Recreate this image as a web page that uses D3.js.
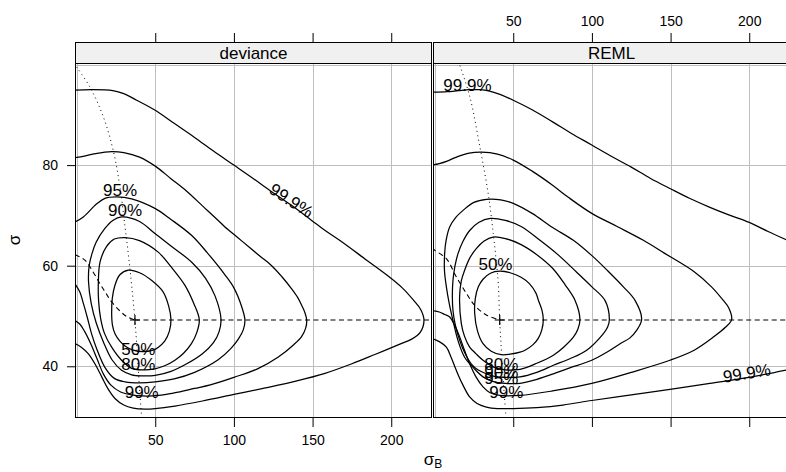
<!DOCTYPE html>
<html><head><meta charset="utf-8">
<script src="https://cdn.jsdelivr.net/npm/d3@7"></script>
<style>
body{margin:0;background:#fff}
svg{display:block}
text{font-family:"Liberation Sans",Arial,Helvetica,sans-serif;fill:#000}
</style>
</head><body>
<svg id="chart" width="786" height="472"></svg>
<script>
// ---------------- data ----------------
const panels = ["deviance", "REML"];
const xTicks = [50, 100, 150, 200];
const yTicks = [40, 60, 80];
const xDomain = [-1, 225.9];
const yDomain = [29.72, 100.3];

// deviance panel contours  [sigma_B, sigma]
const dev50 = [[33,59.1],[40,58.6],[48,57],[55,54.8],[58.5,52],[60,49.3],[59,47],[56,45],[52,43.8],[48.5,43.2],[42,42.9],[36,43.2],[31,44],[27.5,45],[24.5,46.4],[22.8,48.2],[22.3,50.5],[22.7,53.5],[24.4,56.1],[27.5,58.2]];
const dev80 = [[30.8,65.6],[40,65],[51.9,62.7],[60,59.8],[68.9,56.1],[74.5,52.5],[78,49.3],[76.5,46.8],[73,44.5],[68,42.6],[62.5,41.2],[56,40.1],[49.8,39.5],[42,39.3],[35,39.6],[28.6,41.2],[22.3,43.8],[17.8,46.5],[15.3,49.5],[14,53],[13.8,56.1],[14.9,60.7],[19,63.8],[24,65.3]];
const dev90 = [[28.6,69.7],[40,68.8],[49.8,66.4],[60,63.9],[73.2,60.7],[82,57.5],[88,54],[91.8,49.3],[90.5,46.8],[87,44.7],[80,42.5],[70,40.5],[60,39],[50,38.2],[42,38.1],[35,38.3],[28.6,39.2],[22.5,41.3],[17.5,44.5],[12.5,48.6],[9.3,52.5],[7.6,56.8],[8,60],[9.8,62.4],[12.5,64.7],[18,67.4],[23,69]];
const dev95 = [[-1,68.7],[4.3,69.7],[12.8,72.3],[18,73.4],[25.5,73.7],[35,73.3],[49.8,71.4],[60,69.2],[73.2,66.0],[83,62.6],[94.3,58.2],[100,55.6],[105,51.8],[107,49.2],[106,47.3],[103,45.5],[98,43.5],[90,41.3],[75,38.8],[62,37.5],[50,36.9],[40,36.7],[30.8,36.9],[24,37.6],[18,39.8],[13,43.3],[9.5,46.5],[7,49.5],[4.5,52.3],[2,54.8],[-1,56.4]];
const dev99 = [[-1,81.5],[5,81.8],[12,82.3],[22.3,82.7],[30,82.5],[40,81.6],[50,79.8],[60,77.3],[70,74.8],[80,71.9],[90,69.0],[94.3,67.7],[102,65.7],[110,63.6],[117,61.8],[124,60.0],[130.5,57.8],[136.7,55.4],[140.5,53.7],[143.1,52.1],[145.2,50.6],[146.3,49.1],[145.6,47.6],[143,45.9],[138,44.3],[128,41.8],[115,39.5],[100,37.8],[85,36.3],[75,35.6],[62,34.7],[52,34.2],[42,34.1],[35,34.3],[28,34.9],[22,36.2],[17,38.5],[13,41.5],[9,44.5],[5,47],[2,48.4],[-1,49.1]];
const dev999 = [[-1,94.9],[10,95],[23,94.8],[30,94.2],[38.2,92.9],[50,90.9],[62,88.3],[75,85.5],[87,82.8],[100,80.0],[112,77.4],[124,74.7],[137,71.9],[149.4,69.0],[158,67.0],[167.4,65.0],[184.4,61.1],[197,58.2],[207,55.6],[214,53.2],[218.7,51.3],[220.8,49.2],[218.5,46.8],[213,45.4],[205.5,44.4],[190,42.4],[175,40.5],[157.9,38.6],[140,37.1],[120,35.7],[100,34.4],[80,33.1],[62.5,32.1],[50,31.6],[43.5,31.5],[36,31.7],[30,32.3],[24.4,33.6],[20,35.5],[16,37.9],[12,40.3],[7.4,42.5],[3,43.8],[-1,44.5]];

// REML panel contours
const rem50 = [[41.4,58.9],[48,58.6],[55,57.7],[60.4,56.4],[64.5,54.5],[66,53.1],[68.2,51.2],[69.1,49.3],[68.2,47.3],[66,45.6],[62.6,44.3],[58,43.3],[54.3,42.8],[48,42.4],[42.4,42.3],[36,43],[30.8,44.5],[27.3,47],[25.5,50.5],[25.9,53.5],[27.8,55.8],[30.8,57.3],[35.5,58.5]];
const rem80 = [[37.1,65.7],[45,65.4],[55,64.2],[65,62.2],[75,59.5],[83,56.2],[89.3,53.1],[92.4,49.3],[91,47.3],[88.2,45.8],[82,43.8],[75.5,42.2],[65,40.6],[54.3,39.4],[45,39.3],[38,39.8],[30.8,41.2],[26,42.6],[22.3,43.8],[19,46],[17,48.5],[15.9,53.8],[17,57],[19.1,59.1],[22.5,61.6],[26.5,63.4],[31.5,64.9]];
const rem90 = [[35.5,69.4],[45,69],[55,67.8],[67,65.05],[78,62.3],[90,58.8],[100,55.8],[108.3,53.1],[111.1,49.3],[110,47.8],[107.3,46.5],[96.7,43.2],[86,41.5],[75.5,40.2],[65,38.8],[54.3,37.9],[45,37.8],[38,38],[32.9,38.5],[27.5,39.3],[23.3,40.5],[19,42.8],[15.9,45.2],[13,48.5],[11.7,51.1],[11.3,54],[11.7,57.1],[13,60],[14.9,62.4],[18,64.8],[22.3,67],[28,68.6]];
const rem95 = [[33,73.2],[42,73.1],[50,72.4],[62,70.4],[75,67.6],[88.2,65.05],[100,62],[110,59],[120,55.8],[127.4,53.1],[131.6,49.3],[128.5,47.2],[124,45.6],[117.9,44.5],[110,42.9],[99.9,41.2],[85,39.6],[75.5,38.5],[65,37.4],[54.3,36.6],[45,36.6],[37,37],[30.8,37.9],[25,39.6],[19.1,41.8],[15,45],[11.7,49.1],[9.3,52.5],[7.5,55.8],[6.3,59],[6.4,62.4],[7.3,65],[9.6,67.7],[13.5,69.6],[18.1,71],[25,72.6]];
const rem99 = [[-1.5,51.1],[3,50.8],[6.5,50.3],[9.6,49.8],[13,48],[16,45.8],[19,43.2],[22.3,40.5],[26.5,37.8],[30.8,35.9],[35,34.8],[41.4,34.2],[54.3,34.2],[75,35.1],[99.9,36.6],[125,38.8],[149.6,41.2],[165,43.2],[177.2,45.8],[185,47.8],[188.8,49.3],[187,51.6],[183.5,53.1],[176,55.8],[165,58.8],[146,62.5],[132.7,65.05],[116,67.8],[99.9,70.4],[85,73.6],[75,76],[62,78.8],[50,81],[40,82.2],[29.9,82.6],[22,82.4],[14,81.6],[8,80.8],[3,80.3],[-1.5,80]];
const rem999Upper = [[-1.5,94.5],[8,94.6],[15,94.8],[22,95],[28.8,95],[35,94.7],[42,94],[50,92.9],[62,91],[75,88.6],[87,86.3],[99.9,84],[112,81.8],[125,79.6],[137,77.4],[149.9,75.3],[162,73.4],[175,71.6],[187,70.1],[200,68.6],[212,66.8],[226,64.8]];
const rem999Lower = [[-1.5,45.5],[3,44.9],[7.5,43.8],[10.5,41.8],[13.8,39.2],[17.5,36.6],[22.3,33.9],[27,32.6],[32.9,31.9],[40,31.6],[49.9,31.6],[65,31.8],[81.6,32.3],[99.9,33.2],[125,34.3],[149.6,35.4],[175,36.6],[199.9,37.8],[226,39.4]];

// profile traces and optimum
const devDashed = [[-1,62.2],[5.3,61.1],[10,59],[14.9,56.4],[18.5,54.6],[22.3,52.8],[27.6,51.0],[31.8,49.9],[37.1,49.2]];
const devDotted = [[0,99.5],[8.5,95.5],[17,89.6],[23.3,82.9],[27.6,75.6],[30.8,67.7],[33,62],[35,56.1],[37.1,49.2],[38.5,43],[39.7,37],[41.4,29.7]];
const remDashed = [[-1.5,63.6],[0,63.1],[7.5,61.4],[13.8,57.8],[20.2,54.5],[25.5,52.1],[32.9,50.2],[41.4,49.2]];
const remDotted = [[16.1,99.8],[22.5,93.5],[28.8,83.6],[34.1,74.3],[37.3,66.4],[39.5,60],[40.5,56.4],[41.4,49.2],[42.5,43],[43.8,36.5],[45.4,29.9]];
const optimum = [[37.1,49.2],[41.4,49.2]];

// contour labels [text, sigma_B, sigma, angle]
const devLabels = [["95%",27.6,75.0,0],["90%",30.8,71.0,0],["50%",39.2,43.4,0],["80%",39.2,40.4,0],["99%",41.4,35.0,0],["99.9%",136.6,73.0,33]];
const remLabels = [["99.9%",20.9,96.0,0],["50%",38.7,60.4,0],["80%",42.4,40.4,0],["90%",42.4,38.9,0],["95%",42.4,37.6,0],["99%",45.6,34.9,0],["99.9%",198.4,38.7,-9]];

// ---------------- drawing ----------------
const svg = d3.select("#chart");
const panelLeft = [75, 433], panelW = 357, panelTop = 63, panelH = 355, stripTop = 42, stripH = 21;
const x = d3.scaleLinear().domain(xDomain).range([0, panelW]);
const y = d3.scaleLinear().domain(yDomain).range([panelH, 0]);

const panelData = [
  {contours:[{p:dev50,c:true},{p:dev80,c:true},{p:dev90,c:true},{p:dev95,c:false},{p:dev99,c:false},{p:dev999,c:false}],
   dashed:devDashed, dotted:devDotted, opt:optimum[0], labels:devLabels},
  {contours:[{p:rem50,c:true},{p:rem80,c:true},{p:rem90,c:true},{p:rem95,c:true},{p:rem99,c:false},{p:rem999Upper,c:false},{p:rem999Lower,c:false}],
   dashed:remDashed, dotted:remDotted, opt:optimum[1], labels:remLabels}
];

const defs = svg.append("defs");
panels.forEach((name, i) => {
  defs.append("clipPath").attr("id","clip"+i).append("rect")
    .attr("x",0).attr("y",0).attr("width",panelW).attr("height",panelH);
});

panels.forEach((name, i) => {
  const L = panelLeft[i];
  const d = panelData[i];
  // strip
  const s = svg.append("g").attr("transform",`translate(${L},${stripTop})`);
  s.append("rect").attr("x",0.5).attr("y",0.5).attr("width",panelW-1).attr("height",stripH)
    .attr("fill","#f0f0f0").attr("stroke","#000").attr("stroke-width",1);
  s.append("text").attr("x",panelW/2).attr("y",16.5).attr("text-anchor","middle")
    .style("font-size","17px").text(name);

  const g = svg.append("g").attr("transform",`translate(${L},${panelTop})`);
  const inner = g.append("g").attr("clip-path",`url(#clip${i})`);
  // grid
  const gridX = [0].concat(xTicks), gridY = yTicks.concat([100]);
  inner.selectAll(".gx").data(gridX).join("line")
    .attr("x1",v=>Math.round(x(v))+0.5).attr("x2",v=>Math.round(x(v))+0.5)
    .attr("y1",0).attr("y2",panelH).attr("stroke","#bebebe").attr("stroke-width",1);
  inner.selectAll(".gy").data(gridY).join("line")
    .attr("y1",v=>Math.round(y(v))+0.5).attr("y2",v=>Math.round(y(v))+0.5)
    .attr("x1",0).attr("x2",panelW).attr("stroke","#bebebe").attr("stroke-width",1);

  // contours
  const lineOpen = d3.line().x(p=>x(p[0])).y(p=>y(p[1])).curve(d3.curveCatmullRom.alpha(0.5));
  const lineClosed = d3.line().x(p=>x(p[0])).y(p=>y(p[1])).curve(d3.curveCatmullRomClosed.alpha(0.5));
  inner.selectAll(".ct").data(d.contours).join("path")
    .attr("d",c=>c.c ? lineClosed(c.p) : lineOpen(c.p))
    .attr("fill","none").attr("stroke","#000").attr("stroke-width",1.25);

  // traces
  inner.append("path").attr("d",lineOpen(d.dashed)).attr("fill","none")
    .attr("stroke","#000").attr("stroke-width",1.1).attr("stroke-dasharray","5,3.5");
  inner.append("line").attr("x1",x(d.opt[0])).attr("x2",panelW)
    .attr("y1",y(d.opt[1])).attr("y2",y(d.opt[1]))
    .attr("stroke","#000").attr("stroke-width",1.1).attr("stroke-dasharray","5,3.5");
  inner.append("path").attr("d",lineOpen(d.dotted)).attr("fill","none")
    .attr("stroke","#000").attr("stroke-width",1).attr("stroke-dasharray","1,3.5");
  // optimum cross
  const ox = x(d.opt[0]), oy = y(d.opt[1]);
  inner.append("path").attr("d",`M${ox-5},${oy}H${ox+5}M${ox},${oy-5}V${oy+5}`)
    .attr("stroke","#000").attr("stroke-width",1.2);

  // labels
  inner.selectAll(".lb").data(d.labels).join("text")
    .attr("transform",l=>`translate(${x(l[1])},${y(l[2])}) rotate(${l[3]})`)
    .attr("text-anchor","middle").attr("dy","0.36em")
    .style("font-size","17px").text(l=>l[0]);

  // panel border
  g.append("rect").attr("x",0.5).attr("y",0.5).attr("width",panelW-1).attr("height",panelH-1)
    .attr("fill","none").attr("stroke","#000").attr("stroke-width",1);

  // axes
  const top = svg.append("g").attr("transform",`translate(${L},${stripTop})`)
    .call(d3.axisTop(x).tickValues(xTicks).tickSize(9).tickPadding(7)
      .tickFormat(i===1 ? d3.format("d") : () => ""));
  const bot = svg.append("g").attr("transform",`translate(${L},${panelTop+panelH})`)
    .call(d3.axisBottom(x).tickValues(xTicks).tickSize(9).tickPadding(8)
      .tickFormat(i===0 ? d3.format("d") : () => ""));
  [top, bot].forEach(a => {
    a.select(".domain").remove();
    a.selectAll("line").attr("stroke","#000");
    a.selectAll("text").style("font-size","14px").attr("font-family",null).attr("fill","#000");
  });
});

// left axis
const la = svg.append("g").attr("transform",`translate(${panelLeft[0]},${panelTop})`)
  .call(d3.axisLeft(y).tickValues(yTicks).tickSize(8).tickPadding(9));
la.select(".domain").remove();
la.selectAll("line").attr("stroke","#000");
la.selectAll("text").style("font-size","14px").attr("font-family",null).attr("fill","#000");

// axis titles
const xt = svg.append("text").attr("x",433).attr("y",465).attr("text-anchor","middle").style("font-size","17px");
xt.append("tspan").text("σ");
xt.append("tspan").attr("dy",3).style("font-size","12px").text("B");
svg.append("text").attr("transform","translate(20,240) rotate(-90)")
  .attr("text-anchor","middle").style("font-size","17px").text("σ");
</script>
</body></html>
